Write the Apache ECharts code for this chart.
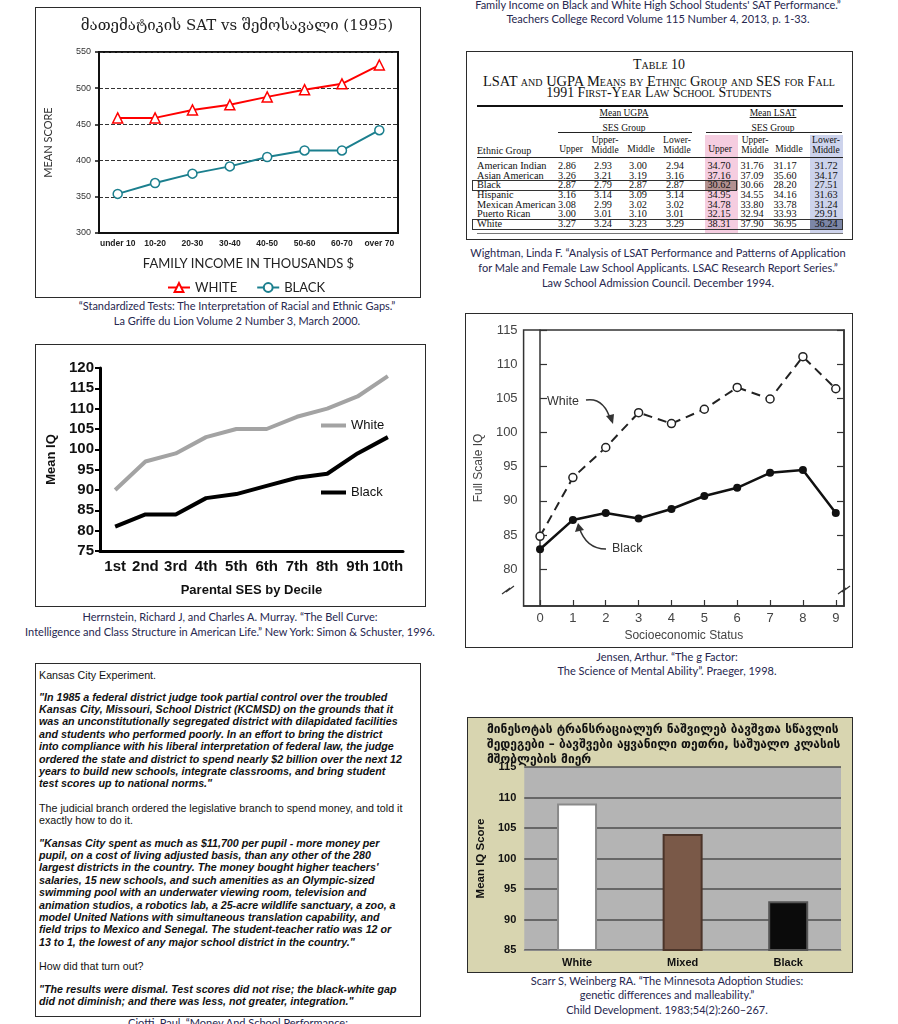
<!DOCTYPE html>
<html><head><meta charset="utf-8"><title>Composite charts</title>
<script src="https://cdn.jsdelivr.net/npm/echarts@6.0.0/dist/echarts.min.js"></script>
<style>
html,body{margin:0;padding:0;background:#fff;}
body{position:relative;width:898px;height:1024px;overflow:hidden;}
.frame{position:absolute;box-sizing:border-box;border:1.5px solid #2b2b2b;}
.chart{position:absolute;}
.cap{position:absolute;font-family:Lato,'Noto Sans',sans-serif;font-size:11px;color:#27274f;text-align:center;white-space:nowrap;line-height:15px;transform:translateX(-50%);}
.t{position:absolute;white-space:nowrap;font-family:'Liberation Serif','DejaVu Serif',serif;color:#111;line-height:12px;}
.kc{position:absolute;left:39px;font-family:'Liberation Sans',Arial,sans-serif;font-size:10.7px;line-height:12.35px;color:#111;white-space:pre;}
.kc.q{font-weight:bold;font-style:italic;}
</style></head><body>

<!-- captions -->
<div class="cap" style="left:658px;top:-2.5px;line-height:14.5px;">Family Income on Black and White High School Students' SAT Performance.”<br>Teachers College Record Volume 115 Number 4, 2013, p. 1-33.</div>
<div class="cap" style="left:237px;top:297.5px;">“Standardized Tests: The Interpretation of Racial and Ethnic Gaps.”<br>La Griffe du Lion Volume 2 Number 3, March 2000.</div>
<div class="cap" style="left:658px;top:244.5px;">Wightman, Linda F. “Analysis of LSAT Performance and Patterns of Application<br>for Male and Female Law School Applicants. LSAC Research Report Series.”<br>Law School Admission Council. December 1994.</div>
<div class="cap" style="left:230px;top:608.5px;">Herrnstein, Richard J, and Charles A. Murray. “The Bell Curve:<br>Intelligence and Class Structure in American Life.” New York: Simon &amp; Schuster, 1996.</div>
<div class="cap" style="left:667px;top:649.5px;line-height:14px;">Jensen, Arthur. “The g Factor:<br>The Science of Mental Ability”. Praeger, 1998.</div>
<div class="cap" style="left:667px;top:973.5px;line-height:14.5px;">Scarr S, Weinberg RA. “The Minnesota Adoption Studies:<br>genetic differences and malleability.”<br>Child Development. 1983;54(2):260–267.</div>
<div class="cap" style="left:238px;top:1015px;">Ciotti, Paul. “Money And School Performance:</div>

<!-- chart frames -->
<div class="frame" style="left:35px;top:7px;width:386px;height:291px;"></div>
<div class="chart" id="c1" style="left:35px;top:7px;width:386px;height:291px;"></div>

<div class="frame" style="left:466px;top:51px;width:387px;height:189px;"></div>
<div id="tbl"></div>

<div class="frame" style="left:35px;top:344px;width:391px;height:263px;"></div>
<div class="chart" id="c3" style="left:35px;top:344px;width:391px;height:263px;"></div>

<div class="frame" style="left:465px;top:313px;width:388px;height:335px;"></div>
<div class="chart" id="c4" style="left:465px;top:313px;width:388px;height:335px;"></div>

<div class="chart" id="c5" style="left:467px;top:717px;width:386px;height:256px;"></div>
<div class="frame" style="left:467px;top:717px;width:386px;height:256px;"></div>

<!-- Kansas City text box -->
<div class="frame" style="left:35px;top:663px;width:386px;height:354px;border-width:1.2px;"></div>
<div class="kc" style="top:668.8px;">Kansas City Experiment.</div>
<div class="kc q" style="top:690.8px;">"In 1985 a federal district judge took partial control over the troubled
Kansas City, Missouri, School District (KCMSD) on the grounds that it
was an unconstitutionally segregated district with dilapidated facilities
and students who performed poorly. In an effort to bring the district
into compliance with his liberal interpretation of federal law, the judge
ordered the state and district to spend nearly $2 billion over the next 12
years to build new schools, integrate classrooms, and bring student
test scores up to national norms."</div>
<div class="kc" style="top:801.8px;">The judicial branch ordered the legislative branch to spend money, and told it
exactly how to do it.</div>
<div class="kc q" style="top:836.8px;">"Kansas City spent as much as $11,700 per pupil - more money per
pupil, on a cost of living adjusted basis, than any other of the 280
largest districts in the country. The money bought higher teachers'
salaries, 15 new schools, and such amenities as an Olympic-sized
swimming pool with an underwater viewing room, television and
animation studios, a robotics lab, a 25-acre wildlife sanctuary, a zoo, a
model United Nations with simultaneous translation capability, and
field trips to Mexico and Senegal. The student-teacher ratio was 12 or
13 to 1, the lowest of any major school district in the country."</div>
<div class="kc" style="top:959.8px;">How did that turn out?</div>
<div class="kc q" style="top:982.8px;">"The results were dismal. Test scores did not rise; the black-white gap
did not diminish; and there was less, not greater, integration."</div>

<script>
// ---------- DATA ----------
// Chart 1: Math SAT vs family income (1995)
const incomeCats = ['under 10','10-20','20-30','30-40','40-50','50-60','60-70','over 70'];
const satWhite = [459, 459, 470, 477, 488, 498, 506, 532];
const satBlack = [354, 369, 382, 392, 405, 414, 414, 442];

// Table 10: LSAT and UGPA means
const ethnicGroups = ['American Indian','Asian American','Black','Hispanic','Mexican American','Puerto Rican','White'];
const sesGroups = ['Upper','Upper-|Middle','Middle','Lower-|Middle'];
const ugpaUpper       = [2.86, 3.26, 2.87, 3.16, 3.08, 3.00, 3.27];
const ugpaUpperMiddle = [2.93, 3.21, 2.79, 3.14, 2.99, 3.01, 3.24];
const ugpaMiddle      = [3.00, 3.19, 2.87, 3.09, 3.02, 3.10, 3.23];
const ugpaLowerMiddle = [2.94, 3.16, 2.87, 3.14, 3.02, 3.01, 3.29];
const lsatUpper       = [34.70, 37.16, 30.62, 34.95, 34.78, 32.15, 38.31];
const lsatUpperMiddle = [31.76, 37.09, 30.66, 34.55, 33.80, 32.94, 37.90];
const lsatMiddle      = [31.17, 35.60, 28.20, 34.16, 33.78, 33.93, 36.95];
const lsatLowerMiddle = [31.72, 34.17, 27.51, 31.63, 31.24, 29.91, 36.24];

// Chart 3: Bell Curve mean IQ by parental SES decile
const decileCats = ['1st','2nd','3rd','4th','5th','6th','7th','8th','9th','10th'];
const iqWhite = [90, 97, 99, 103, 105, 105, 108, 110, 113, 118];
const iqBlack = [81, 84, 84, 88, 89, 91, 93, 94, 99, 103];

// Chart 4: Jensen full scale IQ by SES
const sesLevels = [0,1,2,3,4,5,6,7,8,9];
const jensenWhite = [84.8, 93.4, 97.8, 102.9, 101.3, 103.4, 106.6, 104.9, 111.1, 106.4];
const jensenBlack = [82.9, 87.2, 88.2, 87.4, 88.8, 90.7, 91.9, 94.1, 94.5, 88.2];
const jensenYTicks = [80, 85, 90, 95, 100, 105, 110, 115];

// Chart 5: Minnesota adoption study
const adoptCats = ['White','Mixed','Black'];
const adoptIQ = [109, 104, 93];

// ---------- CHART 1 ----------
const c1 = echarts.init(document.getElementById('c1'), null, {renderer:'canvas'});
c1.setOption({
  animation:false,
  title:{text:'მათემატიკის SAT vs შემოსავალი (1995)', left:202, top:12, padding:0, textAlign:'center',
    textStyle:{fontFamily:'DejaVu Serif, DejaVu Sans, serif', fontSize:15, fontWeight:'normal', color:'#222'}},
  grid:{left:64, top:45, width:299, height:181, show:true, borderColor:'#111', borderWidth:2, backgroundColor:'transparent'},
  legend:{top:269, left:127, itemWidth:22, itemHeight:11, itemGap:19,
    textStyle:{fontFamily:'Lato, sans-serif', fontSize:13, color:'#222'},
    data:['WHITE','BLACK']},
  xAxis:{type:'category', data:incomeCats, boundaryGap:true,
    axisLine:{lineStyle:{color:'#111', width:2}},
    axisTick:{alignWithLabel:true, length:5, lineStyle:{color:'#111', width:1.5}},
    axisLabel:{interval:0, fontSize:8.5, fontWeight:'bold', fontFamily:'Liberation Sans, Arial', color:'#222', margin:6},
    name:'FAMILY INCOME IN THOUSANDS $', nameLocation:'middle', nameGap:24,
    nameTextStyle:{fontFamily:'Lato, sans-serif', fontSize:13, color:'#222'}},
  yAxis:{type:'value', min:300, max:550, interval:50,
    axisLine:{show:true, lineStyle:{color:'#111', width:2}},
    axisTick:{show:true, length:4, lineStyle:{color:'#111', width:1.5}},
    axisLabel:{fontSize:9, fontFamily:'Liberation Sans, Arial', color:'#333', margin:8},
    splitLine:{lineStyle:{type:'dashed', color:'#333', width:1}},
    name:'MEAN SCORE', nameLocation:'middle', nameGap:45,
    nameTextStyle:{fontFamily:'Lato, sans-serif', fontSize:11, color:'#333'}},
  series:[
    {name:'WHITE', type:'line', data:satWhite, symbol:'triangle', symbolSize:10,
      lineStyle:{color:'#ff0000', width:2}, itemStyle:{color:'#fff', borderColor:'#ff0000', borderWidth:1.5}},
    {name:'BLACK', type:'line', data:satBlack, symbol:'circle', symbolSize:9,
      lineStyle:{color:'#1b7f8e', width:2}, itemStyle:{color:'#fff', borderColor:'#1b7f8e', borderWidth:1.5}}
  ]
});

// ---------- TABLE ----------
(function(){
  const root = document.getElementById('tbl');
  function add(html, style, cls){ const d=document.createElement('div'); d.className=cls||'t'; d.innerHTML=html; d.setAttribute('style', style); root.appendChild(d); return d; }
  function rect(x,y,w,h,extra){ add('', 'position:absolute;left:'+x+'px;top:'+y+'px;width:'+w+'px;height:'+h+'px;'+extra, 'r'); }
  // shaded columns
  rect(705, 135, 33, 98, 'background:#f5cde0;');
  rect(810, 135, 33, 98, 'background:#cdd3ec;');
  // titles
  function title(txt, cx, cy, fs, target){
    const d = add(txt, 'left:'+cx+'px;top:'+(cy-7)+'px;font-size:'+fs+'px;line-height:14px;font-variant:small-caps;color:#111;transform:translateX(-50%);');
    const w = d.getBoundingClientRect().width; d.style.fontSize = (fs*target/w)+'px';
  }
  title('Table 10', 659, 65, 14, 52);
  title('LSAT and UGPA Means by Ethnic Group and SES for Fall', 659, 80.5, 14, 358);
  title('1991 First-Year Law School Students', 659, 93, 14, 224);
  rect(477, 105, 366, 2, 'background:#111;');
  add('<u>Mean UGPA</u>', 'left:624px;top:107px;font-size:9.5px;transform:translateX(-50%);');
  add('<u>Mean LSAT</u>', 'left:773px;top:107px;font-size:9.5px;transform:translateX(-50%);');
  add('SES Group', 'left:624px;top:122px;font-size:9.5px;transform:translateX(-50%);');
  add('SES Group', 'left:773px;top:122px;font-size:9.5px;transform:translateX(-50%);');
  rect(558, 132, 134, 1, 'background:#222;');
  rect(706, 132, 136, 1, 'background:#222;');
  const headX = [571, 605, 641, 677, 720, 755, 789, 826];
  add('Ethnic Group', 'left:477px;top:145px;font-size:10px;');
  headX.forEach(function(x,i){
    const parts = sesGroups[i%4].split('|');
    const txt = parts.length>1 ? parts[0]+'<br>'+parts[1] : parts[0];
    const top = parts.length>1 ? 136 : 145;
    add(txt, 'left:'+x+'px;top:'+top+'px;font-size:9.5px;line-height:9.5px;text-align:center;transform:translateX(-50%);');
  });
  rect(477, 157, 366, 1, 'background:#222;');
  const cols = [ugpaUpper, ugpaUpperMiddle, ugpaMiddle, ugpaLowerMiddle, lsatUpper, lsatUpperMiddle, lsatMiddle, lsatLowerMiddle];
  const colX = [567, 603, 638, 675, 719, 752, 785, 826];
  // highlighted cells
  const blackIdx = ethnicGroups.indexOf('Black');
  const whiteIdx = ethnicGroups.indexOf('White');
  const rowY = function(i){ return 166 + 9.67*i; };
  rect(705, rowY(blackIdx)-5, 33, 10, 'background:#b39190;');
  rect(810, rowY(whiteIdx)-5, 33, 10, 'background:#7c86a6;');
  ethnicGroups.forEach(function(g,i){
    const y = rowY(i);
    add(g, 'left:477px;top:'+(y-6)+'px;font-size:10.3px;');
    cols.forEach(function(col,j){
      add(col[i].toFixed(2), 'left:'+colX[j]+'px;top:'+(y-6)+'px;font-size:10.3px;transform:translateX(-50%);');
    });
  });
  // row boxes
  rect(472, rowY(blackIdx)-5.5, 265, 11, 'box-sizing:border-box;border:1.5px solid #333;');
  rect(472, rowY(whiteIdx)-5.5, 371, 11, 'box-sizing:border-box;border:1.5px solid #333;');
  rect(477, 233, 366, 1, 'background:#777;');
})();

// ---------- CHART 3 ----------
const c3 = echarts.init(document.getElementById('c3'));
c3.setOption({
  animation:false,
  grid:{left:65, top:24, width:303, height:183},
  legend:{orient:'vertical', left:281, top:70, itemWidth:25, itemHeight:4, itemGap:54, icon:'rect',
    textStyle:{fontFamily:'Liberation Sans, Arial', fontSize:13, color:'#111'}, data:['White','Black']},
  xAxis:{type:'category', data:decileCats, boundaryGap:true,
    axisLine:{lineStyle:{color:'#000', width:3}}, axisTick:{show:false},
    axisLabel:{interval:0, fontSize:15, fontWeight:'bold', fontFamily:'Liberation Sans, Arial', color:'#111', margin:8},
    name:'Parental SES by Decile', nameLocation:'middle', nameGap:33,
    nameTextStyle:{fontSize:13, fontWeight:'bold', fontFamily:'Liberation Sans, Arial', color:'#111'}},
  yAxis:{type:'value', min:75, max:120, interval:5,
    axisLine:{show:true, lineStyle:{color:'#000', width:3}},
    axisTick:{show:true, length:5, lineStyle:{color:'#000', width:2}},
    axisLabel:{fontSize:15, fontWeight:'bold', fontFamily:'Liberation Sans, Arial', color:'#111', margin:6},
    splitLine:{show:false},
    name:'Mean IQ', nameLocation:'middle', nameGap:38,
    nameTextStyle:{fontSize:13, fontWeight:'bold', fontFamily:'Liberation Sans, Arial', color:'#111'}},
  series:[
    {name:'White', type:'line', data:iqWhite, symbol:'none', lineStyle:{color:'#a3a3a3', width:4}, itemStyle:{color:'#a3a3a3'}},
    {name:'Black', type:'line', data:iqBlack, symbol:'none', lineStyle:{color:'#000', width:4}, itemStyle:{color:'#000'}}
  ]
});

// ---------- CHART 4 ----------
const c4 = echarts.init(document.getElementById('c4'));
const jFont = 'Liberation Sans, Arial, sans-serif';
c4.setOption({
  animation:false,
  grid:{left:43, top:17, width:336, height:276, show:true, borderColor:'#333', borderWidth:1.5},
  xAxis:{type:'value', min:-0.5, max:9.25,
    axisLine:{lineStyle:{color:'#333', width:1.5}},
    axisTick:{inside:true, length:6, customValues:sesLevels, lineStyle:{color:'#333', width:1.2}},
    axisLabel:{customValues:sesLevels, fontSize:13, fontFamily:jFont, color:'#444', margin:6},
    splitLine:{show:false},
    name:'Socioeconomic Status', nameLocation:'middle', nameGap:21,
    nameTextStyle:{fontSize:12, fontFamily:jFont, color:'#444'}},
  yAxis:[
    {type:'value', min:74.6, max:115,
      axisLine:{show:true, lineStyle:{color:'#333', width:1.5}},
      axisTick:{show:true, inside:true, length:7, customValues:jensenYTicks, lineStyle:{color:'#333', width:1.2}},
      axisLabel:{customValues:jensenYTicks, fontSize:13, fontFamily:jFont, color:'#444', margin:6},
      splitLine:{show:false},
      name:'Full Scale IQ', nameLocation:'middle', nameGap:30,
      nameTextStyle:{fontSize:12, fontFamily:jFont, color:'#444'}},
    {type:'value', position:'right', min:74.6, max:115,
      axisLine:{show:true, lineStyle:{color:'#333', width:1.5}},
      axisTick:{show:true, inside:true, length:7, customValues:jensenYTicks, lineStyle:{color:'#333', width:1.2}},
      axisLabel:{show:false}, splitLine:{show:false}}
  ],
  series:[
    {name:'White', type:'line', data:sesLevels.map(function(x,i){return [x, jensenWhite[i]];}),
      symbol:'circle', symbolSize:8, lineStyle:{color:'#222', width:2, type:[9,6]},
      itemStyle:{color:'#fff', borderColor:'#222', borderWidth:1.5}, z:3},
    {name:'Black', type:'line', data:sesLevels.map(function(x,i){return [x, jensenBlack[i]];}),
      symbol:'circle', symbolSize:8, lineStyle:{color:'#111', width:2.5},
      itemStyle:{color:'#111'}, z:3}
  ],
  graphic:[
    {type:'text', left:82, top:82, style:{text:'White', fontSize:12.5, fontFamily:jFont, fill:'#333'}},
    {type:'text', left:147, top:229, style:{text:'Black', fontSize:12.5, fontFamily:jFont, fill:'#333'}},
    {type:'bezierCurve', shape:{x1:121, y1:87, cpx1:139, cpy1:84, x2:146, y2:108}, style:{stroke:'#333', lineWidth:1.5, fill:null}},
    {type:'polygon', shape:{points:[[141,103],[148,111],[149,101]]}, style:{fill:'#333'}},
    {type:'bezierCurve', shape:{x1:141, y1:236, cpx1:121, cpy1:236, x2:114, y2:214}, style:{stroke:'#333', lineWidth:1.5, fill:null}},
    {type:'polygon', shape:{points:[[110,219],[113,210],[119,217]]}, style:{fill:'#333'}},
    {type:'polyline', shape:{points:[[37,281],[45,275],[41,279],[49,273]]}, style:{stroke:'#333', lineWidth:1.2, fill:null}},
    {type:'polyline', shape:{points:[[373,281],[381,275],[377,279],[385,273]]}, style:{stroke:'#333', lineWidth:1.2, fill:null}}
  ]
});

// ---------- CHART 5 ----------
const c5 = echarts.init(document.getElementById('c5'));
const barPalette = ['#ffffff', '#7a5948', '#0b0b0b'];
const barBorders = ['#8a8a8a', '#4b3429', '#555555'];
c5.setOption({
  animation:false,
  backgroundColor:'#d8d5b0',
  title:{text:'მინესოტას ტრანსრაციალურ ნაშვილებ ბავშვთა სწავლის\nშედეგები – ბავშვები აყვანილი თეთრი, საშუალო კლასის\nმშობლების მიერ',
    left:20, top:5, padding:0,
    textStyle:{fontFamily:'DejaVu Sans, sans-serif', fontSize:12, fontWeight:'bold', color:'#111', lineHeight:15}},
  grid:{left:54, top:50, width:320, height:183, show:true, backgroundColor:'#b4b4b4', borderWidth:0},
  xAxis:{type:'category', data:adoptCats,
    axisLine:{lineStyle:{color:'#8a8a8a', width:1}}, axisTick:{show:false},
    axisLabel:{fontSize:11, fontWeight:'bold', fontFamily:'Liberation Sans, Arial', color:'#111', margin:7}},
  yAxis:{type:'value', min:85, max:115, interval:5,
    axisLine:{show:false}, axisTick:{show:false},
    axisLabel:{fontSize:11, fontWeight:'bold', fontFamily:'Liberation Sans, Arial', color:'#111', margin:8},
    splitLine:{lineStyle:{color:'#4e4e4e', width:1.5}},
    name:'Mean IQ Score', nameLocation:'middle', nameGap:32,
    nameTextStyle:{fontSize:11.5, fontWeight:'bold', fontFamily:'Liberation Sans, Arial', color:'#111'}},
  series:[{type:'bar', barWidth:40,
    data:adoptIQ.map(function(v,i){return {value:v, itemStyle:{color:barPalette[i], borderColor:barBorders[i], borderWidth:2}};}),
    z:3}]
});
</script>
</body></html>
